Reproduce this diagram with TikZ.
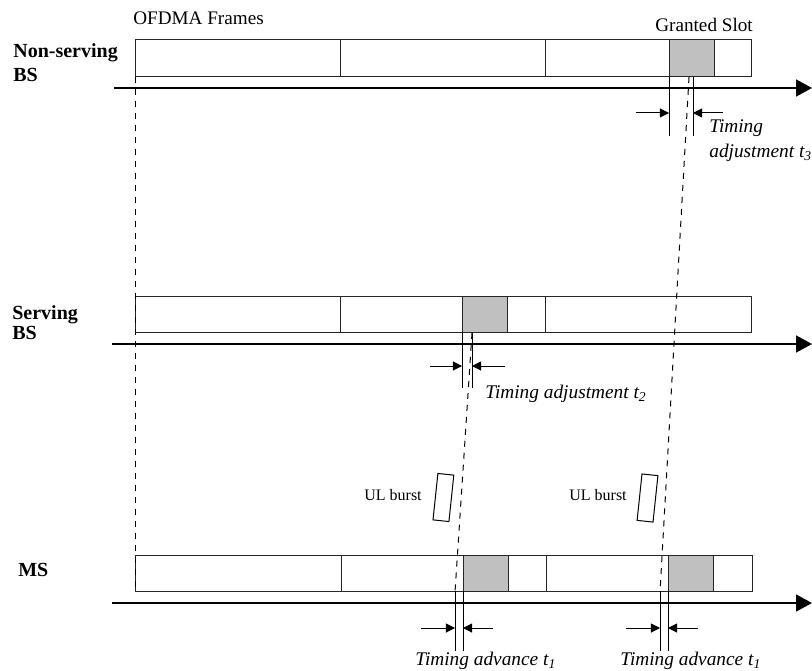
\documentclass[tikz,border=0pt]{standalone}
\usepackage{fontspec}
\setmainfont{Liberation Serif}
\usetikzlibrary{arrows.meta}
\definecolor{slotgray}{RGB}{192,192,192}
\begin{document}
\begin{tikzpicture}[x=0.6pt,y=-0.6pt,
    frame/.style={draw=black!85,line width=0.6pt},
    slot/.style={frame,fill=slotgray},
    timeaxis/.style={line width=1.3pt,-{Triangle[length=9.5pt,width=10pt]}},
    prop/.style={line width=0.6pt,dash pattern=on 3.6pt off 3.6pt},
    marker/.style={line width=0.6pt},
    gaparrow/.style={line width=0.6pt,-{Triangle[length=5.5pt,width=5.5pt]}},
    rowname/.style={font=\bfseries\fontsize{12}{12}\selectfont,align=left,anchor=north west,inner sep=0pt},
    plain/.style={font=\fontsize{11.5}{14}\selectfont,inner sep=0pt},
    gaplabel/.style={font=\itshape\fontsize{11.6}{15}\selectfont,inner sep=0pt,align=left},
    burst/.style={draw,line width=0.6pt,minimum width=9.6pt,minimum height=28pt,inner sep=0pt,rotate=-6}]
  \useasboundingbox (0,0) rectangle (812,670);

  \node[plain,anchor=base west] (frames) at (133,25) {OFDMA Frames};
  \node[plain,anchor=base west] (granted) at (655,32) {Granted Slot};
  \node[rowname] (nsbs) at (13,43) {Non-serving\\[2.4pt]BS};
  \node[rowname] (sbs) at (12,305) {Serving\\BS};
  \node[rowname] (ms) at (18,563) {MS};

  \draw[frame] (135,40) rectangle (340,77) (340,40) rectangle (545,77) (545,40) rectangle (751,77);
  \draw[slot] (669,40) rectangle (714,77);
  \draw[frame] (135,296) rectangle (340,332) (340,296) rectangle (545,332) (545,296) rectangle (751,332);
  \draw[slot] (462,296) rectangle (507,332);
  \draw[frame] (135,555) rectangle (341,591) (341,555) rectangle (546,591) (546,555) rectangle (752,591);
  \draw[slot] (463,555) rectangle (508,591);
  \draw[slot] (668,555) rectangle (713,591);

  \draw[timeaxis] (114,88) -- (812,88);
  \draw[timeaxis] (112,344) -- (812,344);
  \draw[timeaxis] (112,603) -- (812,603);

  \coordinate (nsfirst) at (135,77);
  \coordinate (msfirst) at (135,591);
  \coordinate (nsgrant) at (689,77);
  \coordinate (msgrant) at (660,592);
  \coordinate (sgrant) at (472,333);
  \coordinate (msslot) at (455,592);
  \draw[prop] (nsfirst) -- (msfirst);
  \draw[prop] (nsgrant) -- (msgrant);
  \draw[prop] (sgrant) -- (msslot);

  \draw[marker] (669,77) -- (669,136) (693,77) -- (693,136);
  \draw[gaparrow] (636,113) -- (669,113);
  \draw[gaparrow] (723,113) -- (693,113);
  \node[gaplabel,anchor=north west] (adj3) at (709,119) {Timing\\adjustment t\textsubscript{3}};

  \draw[marker] (462,332) -- (462,388) (472,332) -- (472,388);
  \draw[gaparrow] (430,366) -- (462,366);
  \draw[gaparrow] (505,366) -- (472,366);
  \node[gaplabel,anchor=base west] (adj2) at (485,398) {Timing adjustment t\textsubscript{2}};

  \node[burst] (burstA) at (443.4,497.5) {};
  \node[burst] (burstB) at (647.5,498) {};
  \node[font=\fontsize{9.6}{11}\selectfont,inner sep=0pt,anchor=base east] (ulA) at (422,500) {UL burst};
  \node[font=\fontsize{9.6}{11}\selectfont,inner sep=0pt,anchor=base east] (ulB) at (627,500) {UL burst};

  \draw[marker] (455,591) -- (455,651) (463,591) -- (463,651);
  \draw[gaparrow] (421,628) -- (455,628);
  \draw[gaparrow] (493,628) -- (463,628);
  \node[gaplabel,anchor=base west] (adv1) at (415,665) {Timing advance t\textsubscript{1}};

  \draw[marker] (660,591) -- (660,651) (668,591) -- (668,651);
  \draw[gaparrow] (626,628) -- (660,628);
  \draw[gaparrow] (698,628) -- (668,628);
  \node[gaplabel,anchor=base west] (adv2) at (620,665) {Timing advance t\textsubscript{1}};
\end{tikzpicture}
\end{document}
